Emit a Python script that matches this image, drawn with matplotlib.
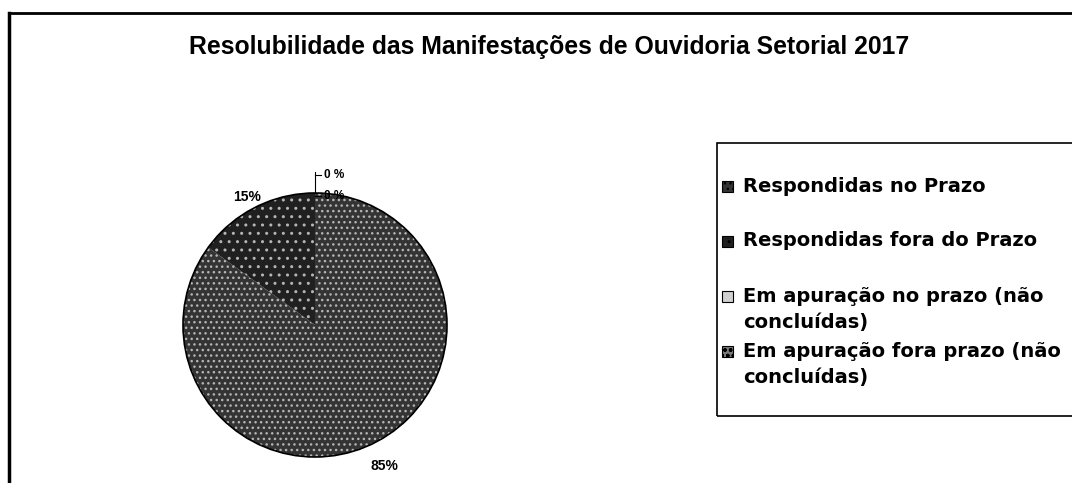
import matplotlib.pyplot as plt
from matplotlib.patches import Rectangle, Circle

# data
categorias = ["Respondidas no Prazo", "Respondidas fora do Prazo",
              "Em apuração no prazo (não\nconcluídas)",
              "Em apuração fora prazo (não\nconcluídas)"]
valores = [85, 15, 0, 0]
rotulos = ["85%", "15%", "0 %", "0 %"]

cores = ["#343434", "#202020", "#d0d0d0", "#7a7a7a"]
hachuras = ["...", "..", "", "ooo"]

plt.rcParams["font.family"] = ["Liberation Sans", "DejaVu Sans"]

fig = plt.figure(figsize=(10.72, 4.83), dpi=100)
ax = fig.add_axes([0, 0, 1, 1])

# moldura do grafico
ax.plot([9, 9], [0, 470], color="black", lw=2.5)
ax.plot([9, 1072], [470, 470], color="black", lw=2.0)

ax.text(549, 436, "Resolubilidade das Manifestações de Ouvidoria Setorial 2017",
        ha="center", va="center", fontsize=17.8, fontweight="bold")

# pizza
cx, cy, r = 315, 158, 132
wedges, _ = ax.pie(valores, startangle=90, counterclock=False,
                   center=(cx, cy), radius=r, colors=cores, frame=True,
                   wedgeprops=dict(linewidth=0))
for w, h in zip(wedges, hachuras):
    w.set_hatch(h)
    w.set_edgecolor("#b5b5b5")
ax.add_patch(Circle((cx, cy), r, fill=False, color="black", lw=1.2))
ax.set_xlim(0, 1072)
ax.set_ylim(0, 483)
ax.set_aspect("equal")
ax.axis("off")

# rotulos
ax.text(384, 17, rotulos[0], ha="center", va="center", fontsize=10, fontweight="bold")
ax.text(247, 286, rotulos[1], ha="center", va="center", fontsize=10, fontweight="bold")
ax.plot([cx, cx], [cy + r, 311], color="black", lw=0.8)
ax.plot([cx, 321], [287, 287], color="black", lw=0.8)
ax.plot([cx, 321], [308, 308], color="black", lw=0.8)
ax.text(324, 287, rotulos[2], ha="left", va="center", fontsize=8.5, fontweight="bold")
ax.text(324, 308, rotulos[3], ha="left", va="center", fontsize=8.5, fontweight="bold")

# legenda
ax.add_patch(Rectangle((717, 67), 400, 273, fill=False, color="black", lw=1.2))
ys = [297, 242, 187, 132]
for nome, y, c, h in zip(categorias, ys, cores, hachuras):
    ax.add_patch(Rectangle((722, y - 6), 11, 11, facecolor=c, hatch=h,
                           edgecolor="black", lw=0.8))
    if "\n" in nome:
        ax.text(743, y + 9, nome, ha="left", va="top", fontsize=14,
                fontweight="bold", family="DejaVu Sans", linespacing=1.45)
    else:
        ax.text(743, y, nome, ha="left", va="center", fontsize=14,
                fontweight="bold", family="DejaVu Sans")

fig.savefig("out.png", dpi=100)
